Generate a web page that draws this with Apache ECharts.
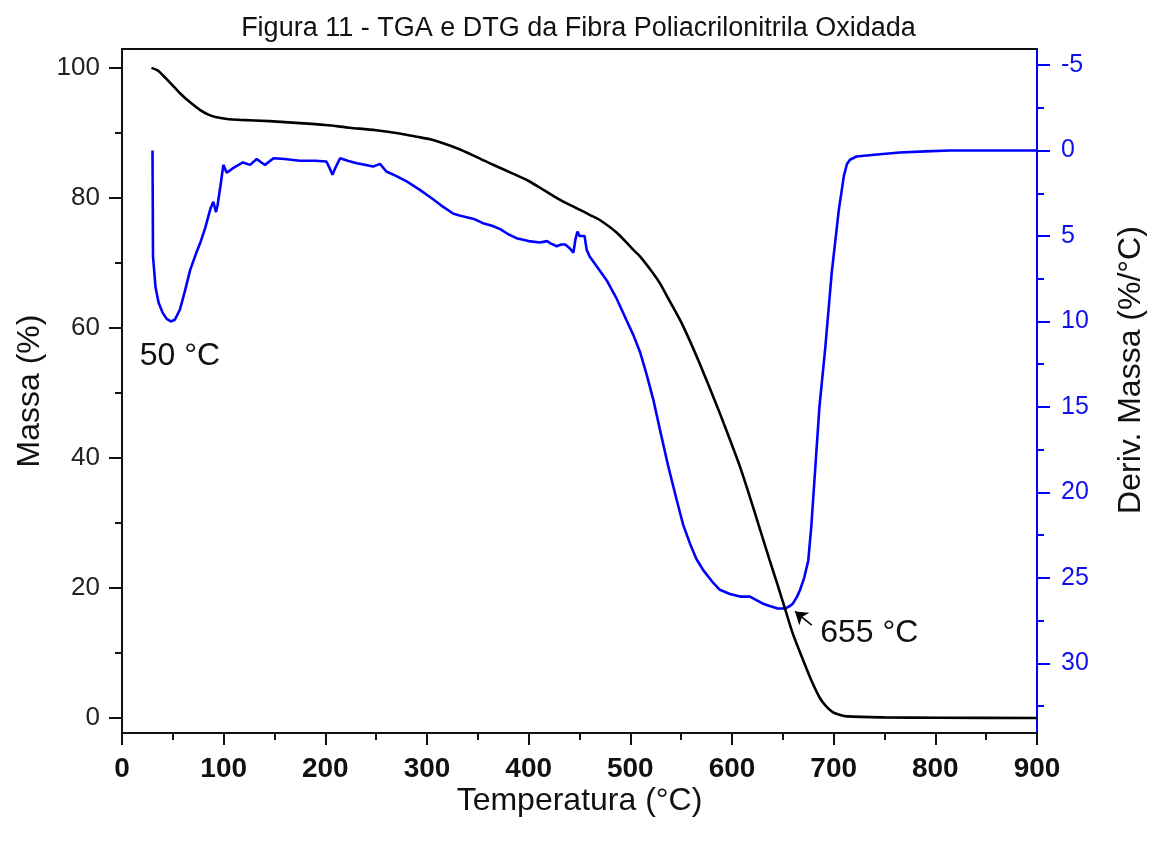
<!DOCTYPE html>
<html>
<head>
<meta charset="utf-8">
<script src="https://cdn.jsdelivr.net/npm/echarts@6/dist/echarts.min.js"></script>
<style>html,body{margin:0;padding:0;background:#fff;}#c{width:1157px;height:841px;}</style>
</head>
<body>
<div id="c"></div>
<script>
const titleText = 'Figura 11 - TGA e DTG da Fibra Poliacrilonitrila Oxidada';
const xName = 'Temperatura (°C)';
const yLeftName = 'Massa (%)';
const yRightName = 'Deriv. Massa (%/°C)';
const leftTicks = [0, 20, 40, 60, 80, 100];
const leftMinor = [10, 30, 50, 70, 90];
const rightTicks = [-5, 0, 5, 10, 15, 20, 25, 30];
const rightMinor = [-2.5, 2.5, 7.5, 12.5, 17.5, 22.5, 27.5, 32.5];

// TGA: [temperature °C, mass %]
const tga = [[29,100],[35,99.6],[40,98.9],[48,97.6],[57,96.1],[67,94.7],[77,93.5],[85,92.8],[93,92.4],[105,92.1],[116,92.0],[145,91.8],[175,91.5],[200,91.2],[224,90.8],[250,90.4],[273,89.9],[290,89.4],[306,88.9],[330,87.6],[350,86.2],[365,85.1],[385,83.7],[400,82.6],[415,81.2],[431,79.7],[450,78.2],[460,77.4],[470,76.6],[487,74.6],[503,72.0],[509.5,71.0],[520,68.9],[529,66.9],[536,64.9],[549,61.2],[558,58.2],[568,54.6],[578,50.8],[588,46.9],[598,42.8],[608,38.6],[618,33.8],[627,29.3],[637,24.3],[645,20.4],[652,16.9],[660,12.9],[670,8.9],[678,5.8],[686,3.2],[692,1.9],[699,0.9],[706,0.5],[713,0.25],[750,0.1],[805,0.05],[900,0.0]];

// DTG: [temperature °C, deriv. mass %/°C]
const dtg = [[30,0],[30.5,6.2],[33,8.0],[36,8.9],[40,9.5],[44,9.85],[48,10.0],[52,9.9],[57,9.3],[62,8.2],[67,7.0],[73,6.0],[77,5.4],[82,4.5],[87,3.4],[89.8,3.0],[92.5,3.6],[94,3.2],[97,2.0],[99.7,0.84],[103,1.3],[110,1.0],[119,0.7],[126,0.84],[132.5,0.5],[137,0.7],[140.7,0.84],[149,0.45],[160,0.5],[175,0.6],[190,0.6],[201,0.64],[204,1.0],[207,1.42],[210,1.0],[214.5,0.45],[222,0.6],[231,0.74],[240,0.85],[247,0.94],[253.8,0.78],[260,1.23],[270,1.5],[280,1.8],[293,2.3],[306,2.85],[316,3.3],[326,3.7],[332,3.8],[339,3.9],[346,4.0],[355,4.25],[364,4.4],[372,4.6],[380,4.9],[388,5.13],[400,5.3],[411,5.38],[418,5.3],[422,5.45],[427.6,5.6],[432,5.5],[436,5.5],[440,5.7],[444,5.97],[446,5.2],[448,4.74],[450,5.0],[452,5.0],[455,5.0],[457,5.8],[460,6.2],[466,6.7],[476.5,7.57],[486,8.6],[496,9.9],[503,10.8],[509.6,11.8],[516,13.1],[522.7,14.6],[529,16.3],[537,18.4],[545.6,20.45],[552,21.9],[558.7,23.0],[565,23.9],[571.7,24.55],[581.6,25.3],[588,25.7],[598,25.95],[608,26.1],[617.7,26.1],[624,26.3],[630,26.5],[637,26.65],[645,26.8],[652,26.8],[657,26.65],[660,26.5],[664,26.1],[667,25.7],[671,25.0],[675,24.0],[678,22.0],[682,18.5],[686,15.0],[691.5,11.7],[698,7.2],[705,3.5],[708,2.3],[710,1.5],[713,0.8],[716,0.54],[722.5,0.35],[740,0.25],[765,0.12],[790,0.05],[814,0.0],[900,0.0]];

// annotations [x, y(left axis)]
const note50 = {text: '50 °C', at: [57, 55.6]};
const note655 = {text: '655 °C', at: [735, 13.0]};
const arrow655 = [[678.4, 14.3], [662, 16.4]];

const FONT = '"Liberation Sans", Arial, sans-serif';
const chart = echarts.init(document.getElementById('c'), null, {renderer: 'canvas'});
const LMIN = -2.3, LMAX = 102.9, RMIN = -5.94, RMAX = 34.08;

chart.setOption({
  backgroundColor: '#fff',
  animation: false,
  title: {
    text: titleText, left: 'center', top: 10,
    textStyle: {fontFamily: FONT, fontSize: 27, fontWeight: 'normal', color: '#111'}
  },
  grid: {left: 122, right: 120, top: 49, bottom: 108, containLabel: false},
  xAxis: [{
    type: 'value', min: 0, max: 900, interval: 100, position: 'bottom',
    name: xName, nameLocation: 'middle', nameGap: 52, nameMoveOverlap: false,
    nameTextStyle: {fontFamily: FONT, fontSize: 32, color: '#111'},
    axisLine: {show: true, onZero: false, lineStyle: {color: '#111', width: 2}},
    axisTick: {show: true, inside: false, length: 12, lineStyle: {color: '#111', width: 2}},
    minorTick: {show: true, splitNumber: 2, length: 7, lineStyle: {color: '#111', width: 2}},
    axisLabel: {fontFamily: FONT, fontSize: 28, fontWeight: 'bold', color: '#111', margin: 22},
    splitLine: {show: false}
  }, {
    type: 'value', min: 0, max: 900, position: 'top',
    axisLine: {show: true, onZero: false, lineStyle: {color: '#111', width: 2}},
    axisTick: {show: false}, axisLabel: {show: false}, splitLine: {show: false}
  }],
  yAxis: [{
    type: 'value', min: LMIN, max: LMAX, position: 'left',
    name: yLeftName, nameLocation: 'middle', nameGap: 64, nameRotate: 90,
    nameTextStyle: {fontFamily: FONT, fontSize: 32, color: '#111'},
    axisLine: {show: true, onZero: false, lineStyle: {color: '#111', width: 2}},
    axisTick: {show: true, length: 13, customValues: leftTicks, lineStyle: {color: '#111', width: 2}},
    axisLabel: {fontFamily: FONT, fontSize: 26, color: '#222', margin: 22, customValues: leftTicks},
    splitLine: {show: false}
  }, {
    type: 'value', min: RMIN, max: RMAX, inverse: true, position: 'right',
    name: yRightName, nameLocation: 'middle', nameGap: 78, nameRotate: 90,
    nameTextStyle: {fontFamily: FONT, fontSize: 32, color: '#111', padding: [0, 0, 0, 42]},
    axisLine: {show: true, onZero: false, lineStyle: {color: '#0000ff', width: 2}},
    axisTick: {show: true, length: 13, customValues: rightTicks, lineStyle: {color: '#0000ff', width: 2}},
    axisLabel: {fontFamily: FONT, fontSize: 25, color: '#1010ee', margin: 24, customValues: rightTicks},
    splitLine: {show: false}
  }, {
    type: 'value', min: LMIN, max: LMAX, position: 'left',
    axisLine: {show: false, onZero: false}, axisLabel: {show: false}, splitLine: {show: false},
    axisTick: {show: true, length: 7, customValues: leftMinor, lineStyle: {color: '#111', width: 2}}
  }, {
    type: 'value', min: RMIN, max: RMAX, inverse: true, position: 'right',
    axisLine: {show: false, onZero: false}, axisLabel: {show: false}, splitLine: {show: false},
    axisTick: {show: true, length: 7, customValues: rightMinor, lineStyle: {color: '#0000ff', width: 2}}
  }],
  series: [{
    name: 'DTG', type: 'line', xAxisIndex: 0, yAxisIndex: 1, data: dtg,
    showSymbol: false, smooth: false,
    lineStyle: {color: '#0000ff', width: 2.6}, z: 2
  }, {
    name: 'TGA', type: 'line', xAxisIndex: 0, yAxisIndex: 0, data: tga,
    showSymbol: false, smooth: 0.3,
    lineStyle: {color: '#000', width: 2.6}, z: 3,
    markPoint: {
      symbol: 'circle', symbolSize: 0, silent: true,
      label: {show: true, position: 'inside', fontFamily: FONT, fontSize: 32, color: '#111',
        formatter: p => p.name},
      data: [
        {name: note50.text, coord: note50.at},
        {name: note655.text, coord: note655.at}
      ]
    },
    markLine: {
      silent: true, symbol: ['none', 'arrow'], symbolSize: 12,
      lineStyle: {color: '#000', width: 1.5, type: 'solid'},
      itemStyle: {color: '#000'},
      label: {show: false},
      data: [[{coord: arrow655[0]}, {coord: arrow655[1]}]]
    }
  }]
});
</script>
</body>
</html>
